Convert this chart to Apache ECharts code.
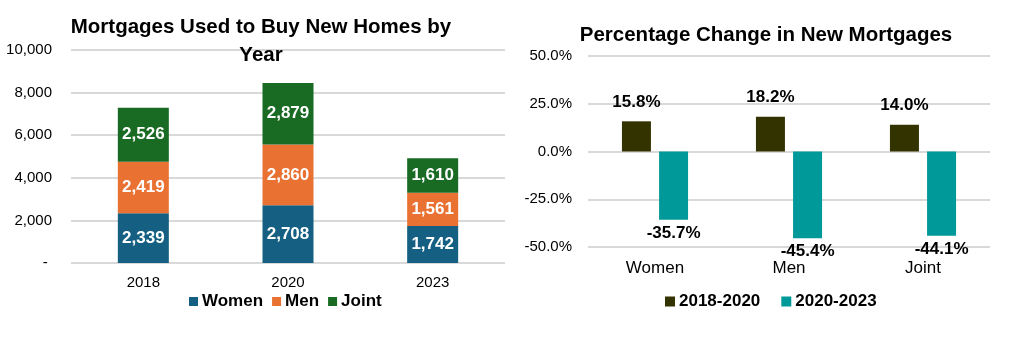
<!DOCTYPE html>
<html><head><meta charset="utf-8">
<script src="https://cdn.jsdelivr.net/npm/echarts@6/dist/echarts.min.js"></script>
<style>html,body{margin:0;padding:0;background:#fff}#c{width:1015px;height:342px}</style>
</head><body><div id="c"></div>
<script>
const years = ['2018', '2020', '2023'];
const women = [2339, 2708, 1742];
const men = [2419, 2860, 1561];
const joint = [2526, 2879, 1610];
const groups = ['Women', 'Men', 'Joint'];
const change1820 = [15.8, 18.2, 14.0];
const change2023 = [-35.7, -45.4, -44.1];

const FONT = 'Liberation Sans';
const fmtNum = v => v.toLocaleString('en-US');
const chart = echarts.init(document.getElementById('c'));
const stackLabel = {show: true, position: 'inside', color: '#fff', fontWeight: 'bold', fontSize: 17, fontFamily: FONT,
  formatter: p => fmtNum(p.value)};
const gridLine = {show: true, lineStyle: {color: '#d9d9d9', width: 2}};
chart.setOption({
  animation: false,
  textStyle: {fontFamily: FONT},
  title: [
    {text: 'Mortgages Used to Buy New Homes by\nYear', left: 256, top: 8, textAlign: 'center',
     textStyle: {fontFamily: FONT, fontSize: 20.5, fontWeight: 'bold', color: '#000', lineHeight: 28}},
    {text: 'Percentage Change in New Mortgages', left: 761, top: 16, textAlign: 'center',
     textStyle: {fontFamily: FONT, fontSize: 20.5, fontWeight: 'bold', color: '#000', lineHeight: 28}}
  ],
  legend: [
    {data: ['Women', 'Men', 'Joint'], left: 184, top: 288, itemWidth: 9, itemHeight: 9, itemGap: 9, icon: 'rect',
     textStyle: {fontFamily: FONT, fontSize: 17, fontWeight: 'bold', color: '#000', padding: [0, 0, 0, -1]}},
    {data: ['2018-2020', '2020-2023'], left: 660, top: 288, itemWidth: 10, itemHeight: 10, itemGap: 21, icon: 'rect',
     textStyle: {fontFamily: FONT, fontSize: 17, fontWeight: 'bold', color: '#000', padding: [0, 0, 0, -1]}}
  ],
  grid: [
    {left: 71, right: 510, top: 50, bottom: 79},
    {left: 588, right: 25, top: 56, bottom: 95}
  ],
  xAxis: [
    {type: 'category', gridIndex: 0, data: years, axisLine: {show: false}, axisTick: {show: false},
     axisLabel: {fontFamily: FONT, fontSize: 15, color: '#000', margin: 12}},
    {type: 'category', gridIndex: 1, data: groups, axisLine: {show: false, onZero: false}, axisTick: {show: false},
     axisLabel: {fontFamily: FONT, fontSize: 17, color: '#000', margin: 13}}
  ],
  yAxis: [
    {type: 'value', gridIndex: 0, min: 0, max: 10000, interval: 2000, splitLine: gridLine,
     axisLabel: {fontFamily: FONT, fontSize: 15, color: '#000', margin: 19,
       formatter: v => v === 0 ? '- ' : fmtNum(v)}},
    {type: 'value', gridIndex: 1, min: -50, max: 50, interval: 25, splitLine: gridLine,
     axisLabel: {fontFamily: FONT, fontSize: 15, color: '#000', margin: 16,
       formatter: v => v.toFixed(1) + '%'}}
  ],
  series: [
    {name: 'Women', type: 'bar', stack: 'a', xAxisIndex: 0, yAxisIndex: 0, data: women, barWidth: 51,
     itemStyle: {color: '#156082'}, label: stackLabel},
    {name: 'Men', type: 'bar', stack: 'a', xAxisIndex: 0, yAxisIndex: 0, data: men, barWidth: 51,
     itemStyle: {color: '#E97132'}, label: stackLabel},
    {name: 'Joint', type: 'bar', stack: 'a', xAxisIndex: 0, yAxisIndex: 0, data: joint, barWidth: 51,
     itemStyle: {color: '#196B24'}, label: stackLabel},
    {name: '2018-2020', type: 'bar', xAxisIndex: 1, yAxisIndex: 1, data: change1820, barWidth: 29, barGap: '28%',
     itemStyle: {color: '#333300'},
     label: {show: true, position: 'top', distance: 11, color: '#000', fontWeight: 'bold', fontSize: 17, fontFamily: FONT,
       formatter: p => p.value.toFixed(1) + '%'}},
    {name: '2020-2023', type: 'bar', xAxisIndex: 1, yAxisIndex: 1, data: change2023, barWidth: 29, barGap: '28%',
     itemStyle: {color: '#009999'},
     label: {show: true, position: 'bottom', distance: 5, color: '#000', fontWeight: 'bold', fontSize: 17, fontFamily: FONT,
       formatter: p => p.value.toFixed(1) + '%'}}
  ]
});
</script></body></html>
